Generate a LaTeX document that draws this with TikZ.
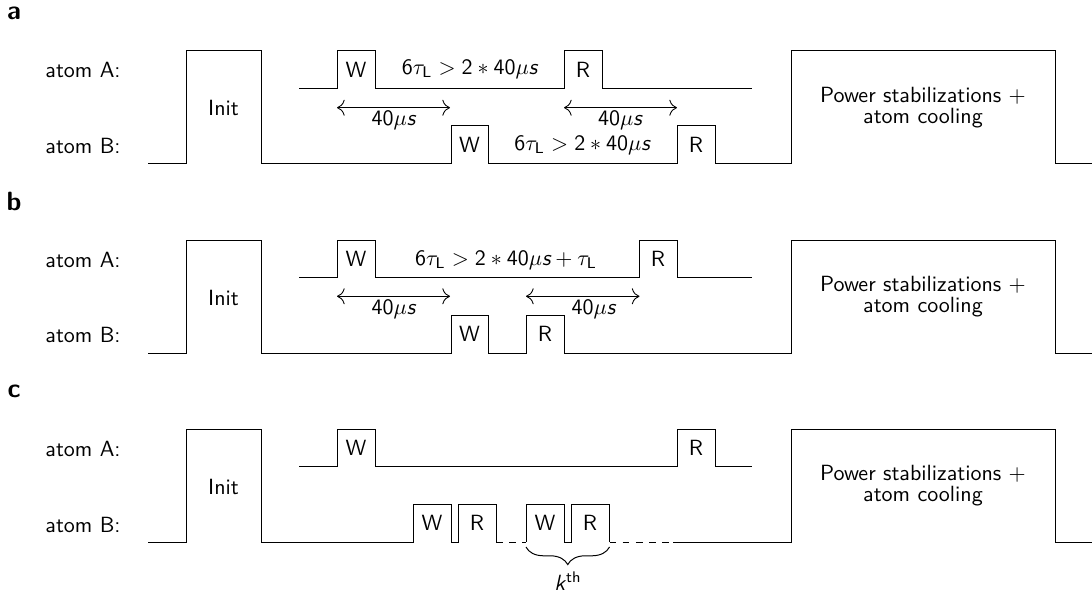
\documentclass[tikz,border=0pt]{standalone}
\usetikzlibrary{decorations.pathreplacing,arrows.meta}
\newcommand{\sfmus}{\mathsf{40}\mu\textit{s}}
\begin{document}
\begin{tikzpicture}[x=0.4545pt,y=-0.4545pt,font=\sffamily,
  sig/.style={line width=0.45pt,line join=miter},
  dashsig/.style={sig,dash pattern=on 3pt off 3pt},
  txt/.style={inner sep=0pt},
  basetxt/.style={inner sep=0pt,anchor=base},
  panellbl/.style={font=\sffamily\bfseries\large,anchor=base,inner sep=0pt},
  atomlbl/.style={anchor=west,inner sep=0pt},
  dimarrow/.style={{To[scale=1.4]}-{To[scale=1.4]},line width=0.4pt},
  kbrace/.style={decorate,decoration={brace,mirror,amplitude=8pt},line width=0.45pt}]
\useasboundingbox (0,0) rectangle (1092,601);

% ---------------- panel a ----------------
\node[panellbl] (la) at (14,19.5) {a};
\node[atomlbl] (aA) at (45,70) {atom A:};
\node[atomlbl] (aB) at (45,146) {atom B:};
\draw[sig] (148,164) -- (186,164) -- (186,51) -- (261,51) -- (261,164)
  -- (451,164) -- (451,126) -- (488,126) -- (488,164)
  -- (677,164) -- (677,126) -- (715,126) -- (715,164)
  -- (791,164) -- (791,51) -- (1055,51) -- (1055,164) -- (1092,164);
\draw[sig] (299,88.5) -- (337,88.5) -- (337,51) -- (375,51) -- (375,88.5)
  -- (564,88.5) -- (564,51) -- (602,51) -- (602,88.5) -- (752,88.5);
\node[txt] (aInit) at (223.5,108) {Init};
\node[basetxt] (aP1) at (923,102.3) {Power stabilizations $+$};
\node[basetxt] (aP2) at (923,123.3) {atom cooling};
\node[txt] (aAW) at (356,70) {W};
\node[txt] (aAR) at (583,70) {R};
\node[txt] (aBW) at (469.5,145) {W};
\node[txt] (aBR) at (696,145) {R};
\node[basetxt] (aAt) at (469.5,74.5) {$\mathsf{6}\tau_{\mathsf{L}} > \mathsf{2} * \sfmus$};
\node[basetxt] (aBt) at (582,150.7) {$\mathsf{6}\tau_{\mathsf{L}} > \mathsf{2} * \sfmus$};
\coordinate (a1s) at (337,107.7); \coordinate (a1e) at (450,107.7);
\coordinate (a2s) at (564,107.7); \coordinate (a2e) at (677,107.7);
\draw[dimarrow] (a1s) -- (a1e);
\draw[dimarrow] (a2s) -- (a2e);
\node[basetxt] (a1l) at (393.5,125.5) {$\sfmus$};
\node[basetxt] (a2l) at (620,125.5) {$\sfmus$};

% ---------------- panel b ----------------
\node[panellbl] (lb) at (14,210.5) {b};
\begin{scope}[shift={(0,189)}]
\node[atomlbl] (bA) at (45,71) {atom A:};
\node[atomlbl] (bB) at (45,146) {atom B:};
\draw[sig] (148,164) -- (186,164) -- (186,51) -- (261,51) -- (261,164)
  -- (451,164) -- (451,126) -- (488,126) -- (488,164)
  -- (526,164) -- (526,126) -- (564,126) -- (564,164)
  -- (791,164) -- (791,51) -- (1055,51) -- (1055,164) -- (1092,164);
\draw[sig] (299,88.5) -- (337,88.5) -- (337,51) -- (375,51) -- (375,88.5)
  -- (639.5,88.5) -- (639.5,51) -- (677,51) -- (677,88.5) -- (752,88.5);
\node[txt] (bInit) at (223.5,108.5) {Init};
\node[basetxt] (bP1) at (923,102.3) {Power stabilizations $+$};
\node[basetxt] (bP2) at (923,123.3) {atom cooling};
\node[txt] (bAW) at (356,70) {W};
\node[txt] (bAR) at (658,70) {R};
\node[txt] (bBW) at (469.5,145) {W};
\node[txt] (bBR) at (545,145) {R};
\node[basetxt] (bAt) at (506,76.5) {$\mathsf{6}\tau_{\mathsf{L}} > \mathsf{2} * \sfmus + \tau_{\mathsf{L}}$};
\coordinate (b1s) at (337,107.3); \coordinate (b1e) at (450,107.3);
\coordinate (b2s) at (526,107.3); \coordinate (b2e) at (639.5,107.3);
\draw[dimarrow] (b1s) -- (b1e);
\draw[dimarrow] (b2s) -- (b2e);
\node[basetxt] (b1l) at (393.5,125.5) {$\sfmus$};
\node[basetxt] (b2l) at (593.5,125.5) {$\sfmus$};
\end{scope}

% ---------------- panel c ----------------
\node[panellbl] (lc) at (14,397.3) {c};
\begin{scope}[shift={(0,378)}]
\node[atomlbl] (cA) at (45,71) {atom A:};
\node[atomlbl] (cB) at (45,147) {atom B:};
\draw[sig] (148,164) -- (186,164) -- (186,51) -- (261,51) -- (261,164)
  -- (413,164) -- (413,126) -- (451,126) -- (451,164)
  -- (458,164) -- (458,126) -- (496,126) -- (496,164);
\draw[dashsig] (496,164) -- (526,164);
\draw[sig] (526,164) -- (526,126) -- (564,126) -- (564,164)
  -- (571,164) -- (571,126) -- (609.5,126) -- (609.5,164);
\draw[dashsig] (609.5,164) -- (673,164);
\draw[sig] (673,164) -- (791,164) -- (791,51) -- (1055,51) -- (1055,164) -- (1092,164);
\draw[sig] (299,88.5) -- (337,88.5) -- (337,51) -- (375,51) -- (375,88.5)
  -- (677,88.5) -- (677,51) -- (715,51) -- (715,88.5) -- (752,88.5);
\node[txt] (cInit) at (223.5,108.5) {Init};
\node[basetxt] (cP1) at (923,102.3) {Power stabilizations $+$};
\node[basetxt] (cP2) at (923,123.3) {atom cooling};
\node[txt] (cAW) at (356,70) {W};
\node[txt] (cAR) at (696,70) {R};
\node[txt] (cBW1) at (432,145) {W};
\node[txt] (cBR1) at (477,145) {R};
\node[txt] (cBW2) at (545,145) {W};
\node[txt] (cBR2) at (590,145) {R};
\coordinate (kbs) at (526,169); \coordinate (kbe) at (609.5,169);
\draw[kbrace] (kbs) -- (kbe);
\node[basetxt] (kl) at (568,212.5) {\textit{k}$^{\mathsf{th}}$};
\end{scope}
\end{tikzpicture}
\end{document}
